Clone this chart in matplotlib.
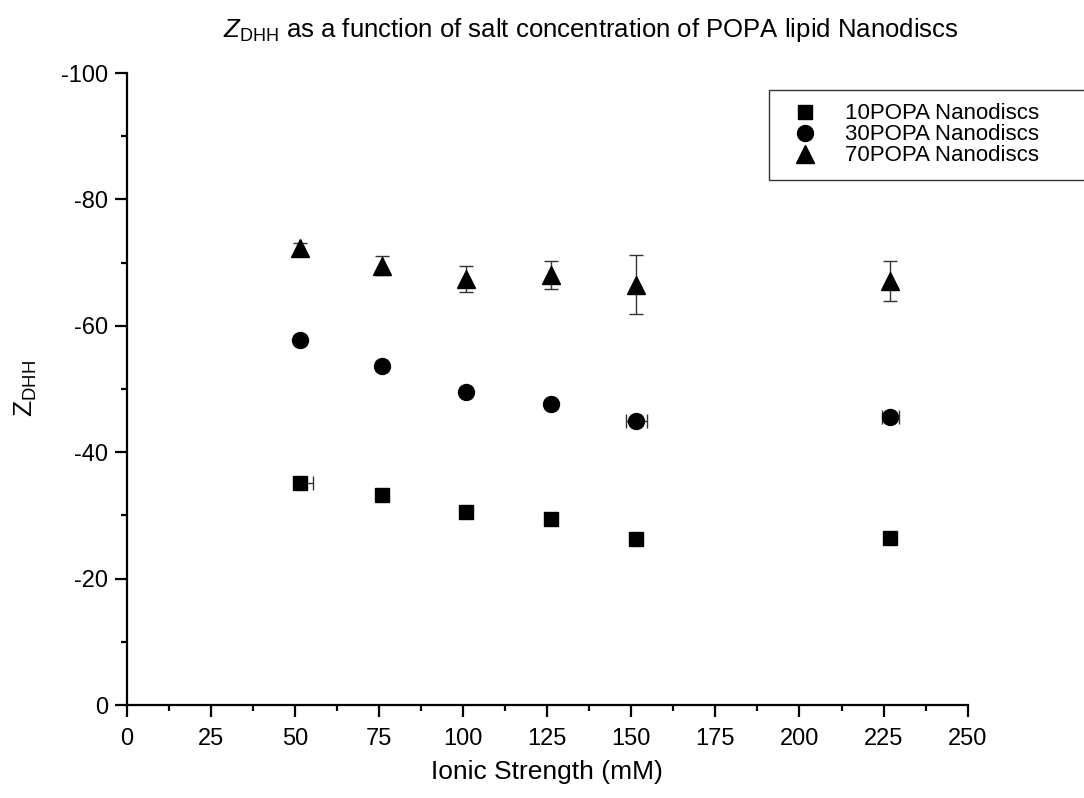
import numpy as np
import matplotlib
matplotlib.use('Agg')
from matplotlib import pyplot as plt
from matplotlib.ticker import MultipleLocator

plt.rcParams['font.family'] = ['Liberation Sans', 'DejaVu Sans']
plt.rcParams['mathtext.fontset'] = 'custom'
plt.rcParams['mathtext.rm'] = 'Liberation Sans'
plt.rcParams['mathtext.it'] = 'Liberation Sans:italic'
plt.rcParams['axes.unicode_minus'] = False

# ionic strength (mM)
ionic = [51.5, 76, 101, 126, 151.5, 227]

# Z_DHH for each lipid mix
z10 = [-35.1, -33.2, -30.5, -29.4, -26.2, -26.5]
z10_xerr = [[0, 0, 0, 0, 0, 0], [4.0, 0, 0, 0, 0, 0]]
z30 = [-57.8, -53.7, -49.5, -47.7, -44.9, -45.6]
z30_xerr = [0, 0, 0, 0, 3.2, 2.6]
z70 = [-72.3, -69.5, -67.4, -68.0, -66.5, -67.1]
z70_yerr = [0.8, 1.5, 2.0, 2.2, 4.7, 3.1]

labels = ['10POPA Nanodiscs', '30POPA Nanodiscs', '70POPA Nanodiscs']

fig = plt.figure(figsize=(10.84, 7.98), dpi=100)
ax = fig.add_axes([0.1169, 0.1165, 0.7758, 0.792])

eb = dict(ls='none', color='black', ecolor='#333333', elinewidth=1.0,
          capsize=5, capthick=1.0)
c1 = ax.errorbar(ionic, z10, xerr=z10_xerr, marker='s', ms=9.5, **eb)
c2 = ax.errorbar(ionic, z30, xerr=z30_xerr, marker='o', ms=11.5, **eb)
c3 = ax.errorbar(ionic, z70, yerr=z70_yerr, marker='^', ms=13, **eb)

ax.set_xlim(0, 250)
ax.set_ylim(0, -100)
ax.xaxis.set_major_locator(MultipleLocator(25))
ax.xaxis.set_minor_locator(MultipleLocator(12.5))
ax.yaxis.set_major_locator(MultipleLocator(20))
ax.yaxis.set_minor_locator(MultipleLocator(10))

for s in ['top', 'right']:
    ax.spines[s].set_visible(False)
for s in ['left', 'bottom']:
    ax.spines[s].set_linewidth(1.6)
ax.tick_params(which='major', direction='out', length=8.5, width=1.6, labelsize=17)
ax.tick_params(axis='x', which='major', pad=8)
ax.tick_params(axis='y', which='major', pad=5)
ax.tick_params(which='minor', direction='out', length=4.5, width=1.6)

ax.set_xlabel('Ionic Strength (mM)', fontsize=19, labelpad=7)
ax.set_ylabel(r'$\mathrm{Z}_{\mathrm{DHH}}$', fontsize=19, labelpad=16)
fig.text(591 / 1084, 1 - 30 / 798,
         r'$Z_{\mathrm{DHH}}$ as a function of salt concentration of POPA lipid Nanodiscs',
         ha='center', va='center', fontsize=18.5)

# legend shows the markers only, no error bars; box runs past the right edge
leg = ax.legend([c1[0], c2[0], c3[0]], labels, loc='upper left',
                bbox_to_anchor=(769 / 1084, 1 - 90 / 798, 330 / 1084, 0),
                bbox_transform=fig.transFigure, mode='expand',
                frameon=True, fancybox=False,
                fontsize=16, handletextpad=0.77, labelspacing=0.0,
                borderpad=0.6, handlelength=2.05, borderaxespad=0)
leg.get_frame().set_edgecolor('black')
leg.get_frame().set_linewidth(1.0)

fig.savefig('out.png', dpi=100)
